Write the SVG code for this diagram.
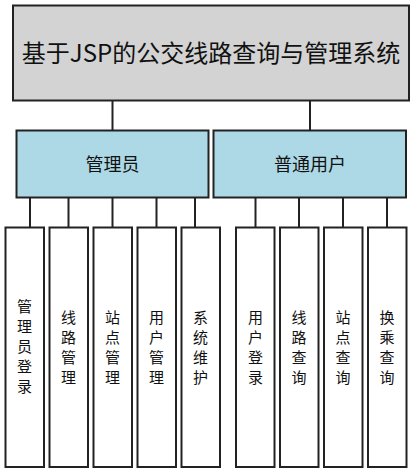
<svg xmlns="http://www.w3.org/2000/svg" width="415" height="473" viewBox="0 0 415 473">
<style>
.box{stroke:#222;stroke-width:2}
.top{fill:#d3d3d3}
.mid{fill:#add8e6}
.leaf{fill:#fff}
text{font-family:"Noto Sans CJK SC","Noto Sans CJK JP",sans-serif;fill:#111;text-anchor:middle;dominant-baseline:central}
.t1{font-size:24px}
.t2{font-size:18px}
.t3{font-size:15px}
.conn line{stroke:#222;stroke-width:2}
</style>
<rect width="415" height="473" fill="#fff"/>
<g class="conn">
<line x1="112.5" y1="100" x2="112.5" y2="130"/>
<line x1="310" y1="100" x2="310" y2="130"/>
<line x1="30" y1="197" x2="30" y2="228"/>
<line x1="68.5" y1="197" x2="68.5" y2="228"/>
<line x1="112.5" y1="197" x2="112.5" y2="228"/>
<line x1="156.5" y1="197" x2="156.5" y2="228"/>
<line x1="195" y1="197" x2="195" y2="228"/>
<line x1="255.5" y1="197" x2="255.5" y2="228"/>
<line x1="299" y1="197" x2="299" y2="228"/>
<line x1="343" y1="197" x2="343" y2="228"/>
<line x1="387" y1="197" x2="387" y2="228"/>
</g>
<g id="root">
<rect class="box top" x="13" y="5.5" width="396" height="95"/>
<text class="t1" x="211" y="51">基于JSP的公交线路查询与管理系统</text>
</g>
<g id="admin">
<rect class="box mid" x="16.5" y="130.5" width="192" height="67"/>
<text class="t2" x="112.5" y="163">管理员</text>
</g>
<g id="user">
<rect class="box mid" x="213.5" y="130.5" width="192.5" height="67"/>
<text class="t2" x="310" y="163">普通用户</text>
</g>
<g id="n1">
<rect class="box leaf" x="5.5" y="227.5" width="38.5" height="239.5"/>
<text class="t3"><tspan x="24.5" y="305">管</tspan><tspan x="24.5" y="325">理</tspan><tspan x="24.5" y="345">员</tspan><tspan x="24.5" y="365">登</tspan><tspan x="24.5" y="385">录</tspan></text>
</g>
<g id="n2">
<rect class="box leaf" x="49.5" y="227.5" width="38.5" height="239.5"/>
<text class="t3"><tspan x="68.5" y="316">线</tspan><tspan x="68.5" y="336">路</tspan><tspan x="68.5" y="356">管</tspan><tspan x="68.5" y="376">理</tspan></text>
</g>
<g id="n3">
<rect class="box leaf" x="93.5" y="227.5" width="38.5" height="239.5"/>
<text class="t3"><tspan x="112.5" y="316">站</tspan><tspan x="112.5" y="336">点</tspan><tspan x="112.5" y="356">管</tspan><tspan x="112.5" y="376">理</tspan></text>
</g>
<g id="n4">
<rect class="box leaf" x="137.5" y="227.5" width="38.5" height="239.5"/>
<text class="t3"><tspan x="156.5" y="316">用</tspan><tspan x="156.5" y="336">户</tspan><tspan x="156.5" y="356">管</tspan><tspan x="156.5" y="376">理</tspan></text>
</g>
<g id="n5">
<rect class="box leaf" x="181.5" y="227.5" width="38.5" height="239.5"/>
<text class="t3"><tspan x="200.5" y="316">系</tspan><tspan x="200.5" y="336">统</tspan><tspan x="200.5" y="356">维</tspan><tspan x="200.5" y="376">护</tspan></text>
</g>
<g id="n6">
<rect class="box leaf" x="236" y="227.5" width="38.5" height="239.5"/>
<text class="t3"><tspan x="255.5" y="316">用</tspan><tspan x="255.5" y="336">户</tspan><tspan x="255.5" y="356">登</tspan><tspan x="255.5" y="376">录</tspan></text>
</g>
<g id="n7">
<rect class="box leaf" x="280" y="227.5" width="38.5" height="239.5"/>
<text class="t3"><tspan x="299" y="316">线</tspan><tspan x="299" y="336">路</tspan><tspan x="299" y="356">查</tspan><tspan x="299" y="376">询</tspan></text>
</g>
<g id="n8">
<rect class="box leaf" x="324" y="227.5" width="38.5" height="239.5"/>
<text class="t3"><tspan x="343" y="316">站</tspan><tspan x="343" y="336">点</tspan><tspan x="343" y="356">查</tspan><tspan x="343" y="376">询</tspan></text>
</g>
<g id="n9">
<rect class="box leaf" x="368" y="227.5" width="38.5" height="239.5"/>
<text class="t3"><tspan x="387" y="316">换</tspan><tspan x="387" y="336">乘</tspan><tspan x="387" y="356">查</tspan><tspan x="387" y="376">询</tspan></text>
</g>
</svg>
